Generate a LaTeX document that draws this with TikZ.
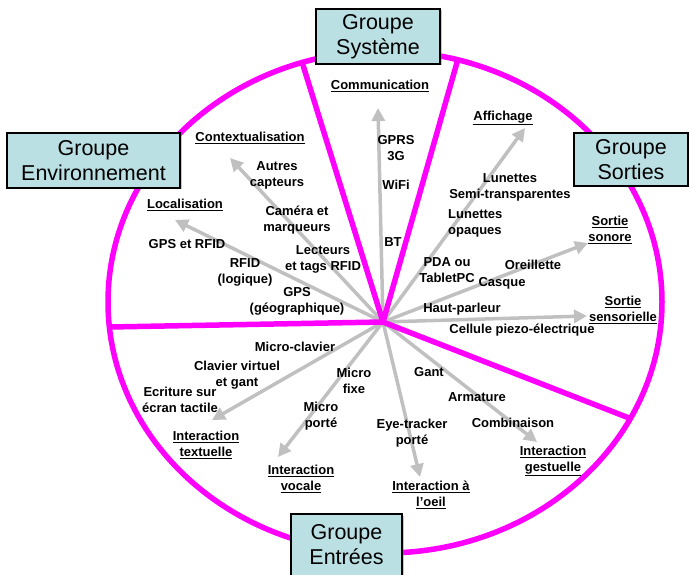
\documentclass[tikz,border=0pt]{standalone}
\usepackage{fontspec}
\setmainfont{Liberation Sans}
\usetikzlibrary{arrows.meta,shadows}
\definecolor{mag}{RGB}{255,0,255}
\definecolor{arrgray}{RGB}{192,192,192}
\definecolor{boxfill}{RGB}{187,224,227}
\tikzset{
  magline/.style={draw=mag,line width=5.5pt},
  arr/.style={draw=arrgray,line width=3.5pt,-{Triangle[length=13pt,width=13pt]}},
  lbl/.style={font=\fontsize{13}{16}\selectfont\bfseries,align=center,inner sep=0pt},
  grp/.style={draw=black,line width=1.3pt,fill=boxfill,align=center,inner sep=0pt,
    font=\fontsize{21.5}{25}\selectfont,
    drop shadow={shadow xshift=1.5pt,shadow yshift=-1.5pt,opacity=0.45}}
}
\begin{document}
\begin{tikzpicture}[x=1pt,y=-1pt]
\useasboundingbox (0,0) rectangle (689,575);
% hub and tips
\coordinate (hub) at (383,322);
\coordinate (tcom) at (378,108);
\coordinate (taff) at (525,128);
\coordinate (tctx) at (230,158);
\coordinate (tloc) at (175,220);
\coordinate (tson) at (588,243);
\coordinate (tsen) at (587,316);
\coordinate (tges) at (537,442);
\coordinate (toei) at (420,477);
\coordinate (tvoc) at (278,457);
\coordinate (ttxt) at (212,420);
% spoke ends
\coordinate (sl) at (110,327);
\coordinate (sul) at (302,62);
\coordinate (sur) at (458,59);
\coordinate (slr) at (629,418);
% gray arrows
\foreach \t in {tcom,taff,tctx,tloc,tson,tsen,tges,toei,tvoc,ttxt}
  \draw[arr] (hub) -- (\t);
% ellipse and spokes
\draw[magline] (385,302) ellipse [x radius=277pt, y radius=251pt];
\draw[magline] (sl) -- (hub);
\draw[magline] (sul) -- (hub);
\draw[magline] (sur) -- (hub);
\draw[magline] (slr) -- (hub);
% group boxes
\node[grp,minimum width=124pt,minimum height=55pt] (gsys) at (378,36.5) {Groupe\\Système};
\node[grp,minimum width=173pt,minimum height=55pt] (genv) at (93.5,160.5) {Groupe\\Environnement};
\node[grp,minimum width=114pt,minimum height=53pt] (gsor) at (631,159.5) {Groupe\\Sorties};
\node[grp,minimum width=111pt,minimum height=68pt,text depth=8pt] (gent) at (346.5,548) {Groupe\\Entrées};
% labels
\node[lbl] (l1) at (380,86) {\underline{Communication}};
\node[lbl] (l2) at (396,148) {GPRS\\3G};
\node[lbl] (l3) at (396,185) {WiFi};
\node[lbl] (l4) at (393,242) {BT};
\node[lbl] (l5) at (503,118) {\underline{Affichage}};
\node[lbl] (l6) at (510,187) {Lunettes\\Semi-transparentes};
\node[lbl,align=left,anchor=west] (l7) at (448,223) {Lunettes\\opaques};
\node[lbl] (l8) at (447,270) {PDA ou\\TabletPC};
\node[lbl] (l9) at (533,265) {Oreillette};
\node[lbl] (l10) at (502,283) {Casque};
\node[lbl] (l11) at (462,309) {Haut-parleur};
\node[lbl] (l12) at (522,330) {Cellule piezo-électrique};
\node[lbl] (l13) at (610,230) {\underline{Sortie}\\\underline{sonore}};
\node[lbl] (l14) at (623,310) {\underline{Sortie}\\\underline{sensorielle}};
\node[lbl] (l15) at (250,138) {\underline{Contextualisation}};
\node[lbl] (l16) at (277,175) {Autres\\capteurs};
\node[lbl] (l17) at (185,205) {\underline{Localisation}};
\node[lbl] (l18) at (187,244) {GPS et RFID};
\node[lbl] (l19) at (297,220) {Caméra et\\marqueurs};
\node[lbl] (l20) at (323,259) {Lecteurs\\et tags RFID};
\node[lbl] (l21) at (245,272) {RFID\\(logique)};
\node[lbl] (l22) at (297,301) {GPS\\(géographique)};
\node[lbl] (l23) at (295,347) {Micro-clavier};
\node[lbl] (l24) at (237,375) {Clavier virtuel\\et gant};
\node[lbl] (l25) at (180,400) {Ecriture sur\\écran tactile};
\node[lbl] (l26) at (354,381) {Micro\\fixe};
\node[lbl] (l27) at (321,416) {Micro\\porté};
\node[lbl] (l28) at (206,445) {\underline{Interaction}\\\underline{textuelle}};
\node[lbl] (l29) at (301,479) {\underline{Interaction}\\\underline{vocale}};
\node[lbl] (l30) at (429,372) {Gant};
\node[lbl] (l31) at (477,397) {Armature};
\node[lbl] (l32) at (513,423) {Combinaison};
\node[lbl] (l33) at (412,433) {Eye-tracker\\porté};
\node[lbl] (l34) at (431,495) {\underline{Interaction à}\\\underline{l’oeil}};
\node[lbl] (l35) at (553,461) {\underline{Interaction}\\\underline{gestuelle}};
\end{tikzpicture}
\end{document}
